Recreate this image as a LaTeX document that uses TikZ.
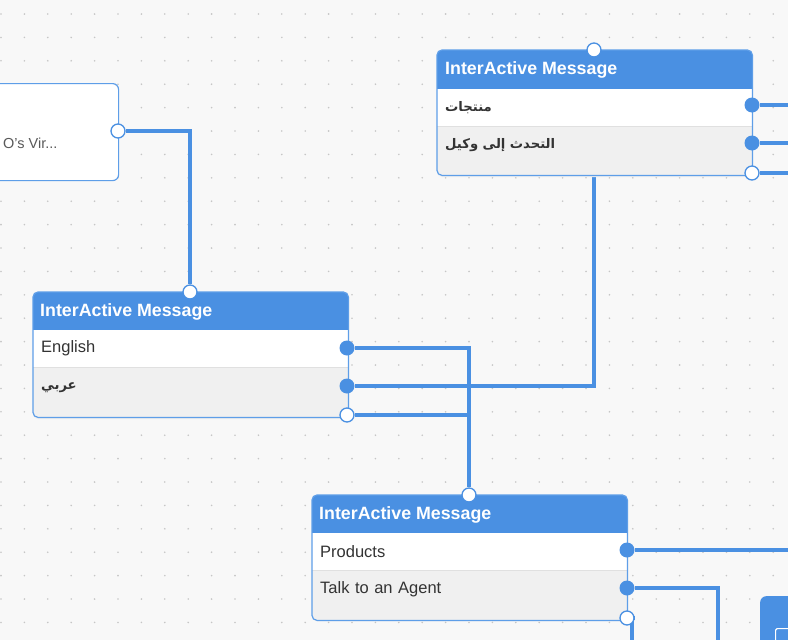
\documentclass[tikz,border=0pt]{standalone}
\usepackage{fontspec}
\setmainfont{Liberation Sans}
\newfontfamily\arabicfont[Script=Arabic]{DejaVu Sans}
\TeXXeTstate=1
\definecolor{flowblue}{HTML}{4A90E2}
\definecolor{edgeblue}{HTML}{5E9EE8}
\definecolor{canvas}{HTML}{F8F8F8}
\definecolor{dotgray}{HTML}{C6C6C6}
\definecolor{rowgray}{HTML}{F0F0F0}
\definecolor{rowline}{HTML}{E0E0E0}
\definecolor{txt}{HTML}{333333}
\pgfdeclarelayer{bg}
\pgfdeclarelayer{wires}
\pgfsetlayers{bg,wires,main}
\tikzset{
  card/.style={fill=flowblue,rounded corners=5pt,anchor=north west,
    minimum width=315pt,minimum height=125pt,inner sep=0pt},
  frame/.style={draw=edgeblue,line width=1.2pt,rounded corners=5pt},
  title/.style={anchor=west,text=white,inner sep=0pt,
    font=\bfseries\fontsize{17.8}{21}\selectfont},
  rowa/.style={fill=white,anchor=north west,minimum height=37pt,
    text width=299pt,inner xsep=8pt,inner ysep=0pt,align=left,text=txt,
    font=\fontsize{16.5}{19}\selectfont},
  rowb/.style={rowa,fill=rowgray,rounded corners=5pt,minimum height=64pt},
  arab/.style={font=\arabicfont\bfseries\fontsize{13.2}{17}\selectfont},
  port/.style={circle,fill=flowblue,minimum size=15pt,inner sep=0pt},
  openport/.style={circle,draw=flowblue,fill=white,line width=1.3pt,
    minimum size=14pt,inner sep=0pt},
  wire/.style={draw=flowblue,line width=3.5pt}
}
\begin{document}
\begin{tikzpicture}[x=1pt,y=-1pt]
  \useasboundingbox (0,0) rectangle (788,640);
  \clip (0,0) rectangle (788,640);

  \begin{pgfonlayer}{bg}
    \fill[canvas] (0,0) rectangle (788,640);
    \foreach \i in {0,...,33}
      \foreach \j in {0,...,27}
        \fill[dotgray] (1+23.4*\i,14+23.4*\j) circle (0.9pt);
  \end{pgfonlayer}

  % cut off card on the left
  \node[draw=edgeblue,fill=white,line width=1.2pt,rounded corners=6pt,
    anchor=north west,minimum width=140pt,minimum height=97pt] (b) at (-22,83) {};
  \node[anchor=west,inner sep=0pt,text=black!65,font=\fontsize{14.5}{17}\selectfont]
    (b-label) at (3,143) {O's Vir...};
  \node[openport] (b-out) at (118,131) {};

  % top card
  \node[card] (a) at (437,50) {};
  \node[rowb,arab] (a-r2) at (437,113) {\beginR التحدث إلى وكيل\endR};
  \node[rowa,arab] (a-r1) at (437,89) {\beginR منتجات\endR};
  \draw[rowline] (a-r1.south west) -- (a-r1.south east);
  \draw[frame] (a.north west) rectangle (a.south east);
  \node[title] (a-title) at (445,70) {InterActive Message};
  \node[openport] (a-in) at (594,50) {};
  \node[port] (a-p1) at (752,105) {};
  \node[port] (a-p2) at (752,143) {};
  \node[openport] (a-p3) at (752,173) {};

  % language card
  \node[card] (c) at (33,292) {};
  \node[rowb,arab] (c-r2) at (33,355) {\beginR عربي\endR};
  \node[rowa] (c-r1) at (33,330) {English};
  \draw[rowline] (c-r1.south west) -- (c-r1.south east);
  \draw[frame] (c.north west) rectangle (c.south east);
  \node[title] (c-title) at (40,312) {InterActive Message};
  \node[openport] (c-in) at (190,292) {};
  \node[port] (c-p1) at (347,348) {};
  \node[port] (c-p2) at (347,386) {};
  \node[openport] (c-p3) at (347,415) {};

  % bottom card
  \node[card] (d) at (312,495) {};
  \node[rowb] (d-r2) at (312,557) {Talk to an Agent};
  \node[rowa] (d-r1) at (312,533) {Products};
  \draw[rowline] (d-r1.south west) -- (d-r1.south east);
  \draw[frame] (d.north west) rectangle (d.south east);
  \node[title] (d-title) at (319,515) {InterActive Message};
  \node[openport] (d-in) at (469,495) {};
  \node[port] (d-p1) at (627,550) {};
  \node[port] (d-p2) at (627,588) {};
  \node[openport] (d-p3) at (627,618) {};

  % cut off card bottom right
  \node[fill=flowblue,rounded corners=6pt,anchor=north west,
    minimum width=60pt,minimum height=60pt] (e) at (760,596) {};
  \node[draw=white,line width=1.2pt,rounded corners=1.5pt,anchor=north west,
    minimum width=16pt,minimum height=14pt] (e-icon) at (775,628) {};

  \coordinate (a-o1) at (800,105);
  \coordinate (a-o2) at (800,143);
  \coordinate (a-o3) at (800,173);
  \coordinate (d-o1) at (800,550);
  \coordinate (d-o2) at (718,650);
  \coordinate (d-o3) at (632,650);

  \begin{pgfonlayer}{wires}
    \draw[wire] (b-out) -| (c-in);
    \draw[wire] (c-p1) -| (d-in);
    \draw[wire] (c-p3) -| (d-in);
    \draw[wire] (c-p2) -| (a-in);
    \draw[wire] (a-p1) -- (a-o1);
    \draw[wire] (a-p2) -- (a-o2);
    \draw[wire] (a-p3) -- (a-o3);
    \draw[wire] (d-p1) -- (d-o1);
    \draw[wire] (d-p2) -| (d-o2);
    \draw[wire] (d-p3) -| (d-o3);
  \end{pgfonlayer}
\end{tikzpicture}
\end{document}
